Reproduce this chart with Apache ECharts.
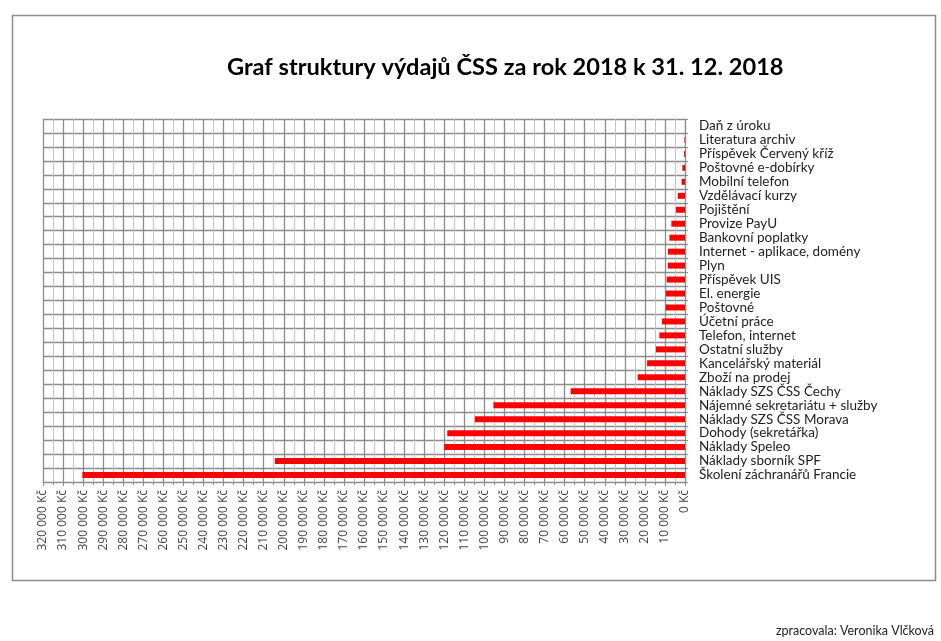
<!DOCTYPE html>
<html>
<head>
<meta charset="utf-8">
<script src="https://cdn.jsdelivr.net/npm/echarts@6/dist/echarts.min.js"></script>
<style>
  html, body { margin: 0; padding: 0; background: #fff; }
  #chart { width: 941px; height: 641px; }
</style>
</head>
<body>
<div id="chart"></div>
<script>
// categories top -> bottom
const categories = [
  "Daň z úroku",
  "Literatura archiv",
  "Příspěvek Červený kříž",
  "Poštovné e-dobírky",
  "Mobilní telefon",
  "Vzdělávací kurzy",
  "Pojištění",
  "Provize PayU",
  "Bankovní poplatky",
  "Internet - aplikace, domény",
  "Plyn",
  "Příspěvek UIS",
  "El. energie",
  "Poštovné",
  "Účetní práce",
  "Telefon, internet",
  "Ostatní služby",
  "Kancelářský materiál",
  "Zboží na prodej",
  "Náklady SZS ČSS Čechy",
  "Nájemné sekretariátu + služby",
  "Náklady SZS ČSS Morava",
  "Dohody (sekretářka)",
  "Náklady Speleo",
  "Náklady sborník SPF",
  "Školení záchranářů Francie"
];
const values = [
  50, 300, 500, 1300, 1700, 3600, 4500, 6800, 7800, 8500,
  8600, 9100, 9500, 9600, 11500, 12800, 14500, 18900, 23600, 57000,
  95500, 104700, 118500, 120000, 204400, 300400
];
const title = "Graf struktury výdajů ČSS za rok 2018 k 31. 12. 2018";
const author = "zpracovala: Veronika Vlčková";

function kc(v) {
  let s = String(Math.round(v)).replace(/\B(?=(\d{3})+(?!\d))/g, " ");
  return s + " Kč";
}

const chart = echarts.init(document.getElementById("chart"));
chart.setOption({
  animation: false,
  textStyle: { fontFamily: "Lato" },
  title: {
    text: title,
    left: 222,
    top: 50,
    textStyle: { fontFamily: "Lato", fontWeight: "bold", fontSize: 23.6, color: "#000" }
  },
  graphic: [
    {
      type: "rect",
      shape: { x: 12.5, y: 15.5, width: 923, height: 565 },
      style: { fill: "none", stroke: "#8c8c8c", lineWidth: 1.5 }
    },
    {
      type: "text",
      right: 7,
      top: 624,
      style: { text: author, fontFamily: "Lato", fontSize: 12.5, fill: "#222" }
    }
  ],
  grid: { left: 43, right: 256, top: 119, bottom: 159 },
  xAxis: {
    type: "value",
    inverse: true,
    min: 0,
    max: 320000,
    interval: 10000,
    axisLine: { show: true, lineStyle: { color: "#8c8c8c" } },
    axisTick: { show: true, length: 4, lineStyle: { color: "#8c8c8c" } },
    minorTick: { show: true, splitNumber: 2, length: 3, lineStyle: { color: "#8c8c8c" } },
    splitLine: { show: true, lineStyle: { color: "#8c8c8c", width: 1.3 } },
    minorSplitLine: { show: true, lineStyle: { color: "#c4c4c4", width: 1 } },
    axisLabel: {
      rotate: 90,
      margin: 8,
      fontFamily: "Open Sans",
      fontSize: 12,
      color: "#444",
      formatter: kc
    }
  },
  yAxis: {
    type: "category",
    position: "right",
    inverse: true,
    data: categories,
    axisLine: { show: true, lineStyle: { color: "#8c8c8c" } },
    axisTick: { show: true, length: 3, lineStyle: { color: "#8c8c8c" } },
    splitLine: { show: true, lineStyle: { color: "#8c8c8c", width: 1.3 } },
    axisLabel: { interval: 0, margin: 14, fontSize: 13.5, color: "#222" }
  },
  series: [
    {
      type: "bar",
      data: values,
      barWidth: 6,
      itemStyle: { color: "#ff0000" }
    }
  ]
});
</script>
</body>
</html>
